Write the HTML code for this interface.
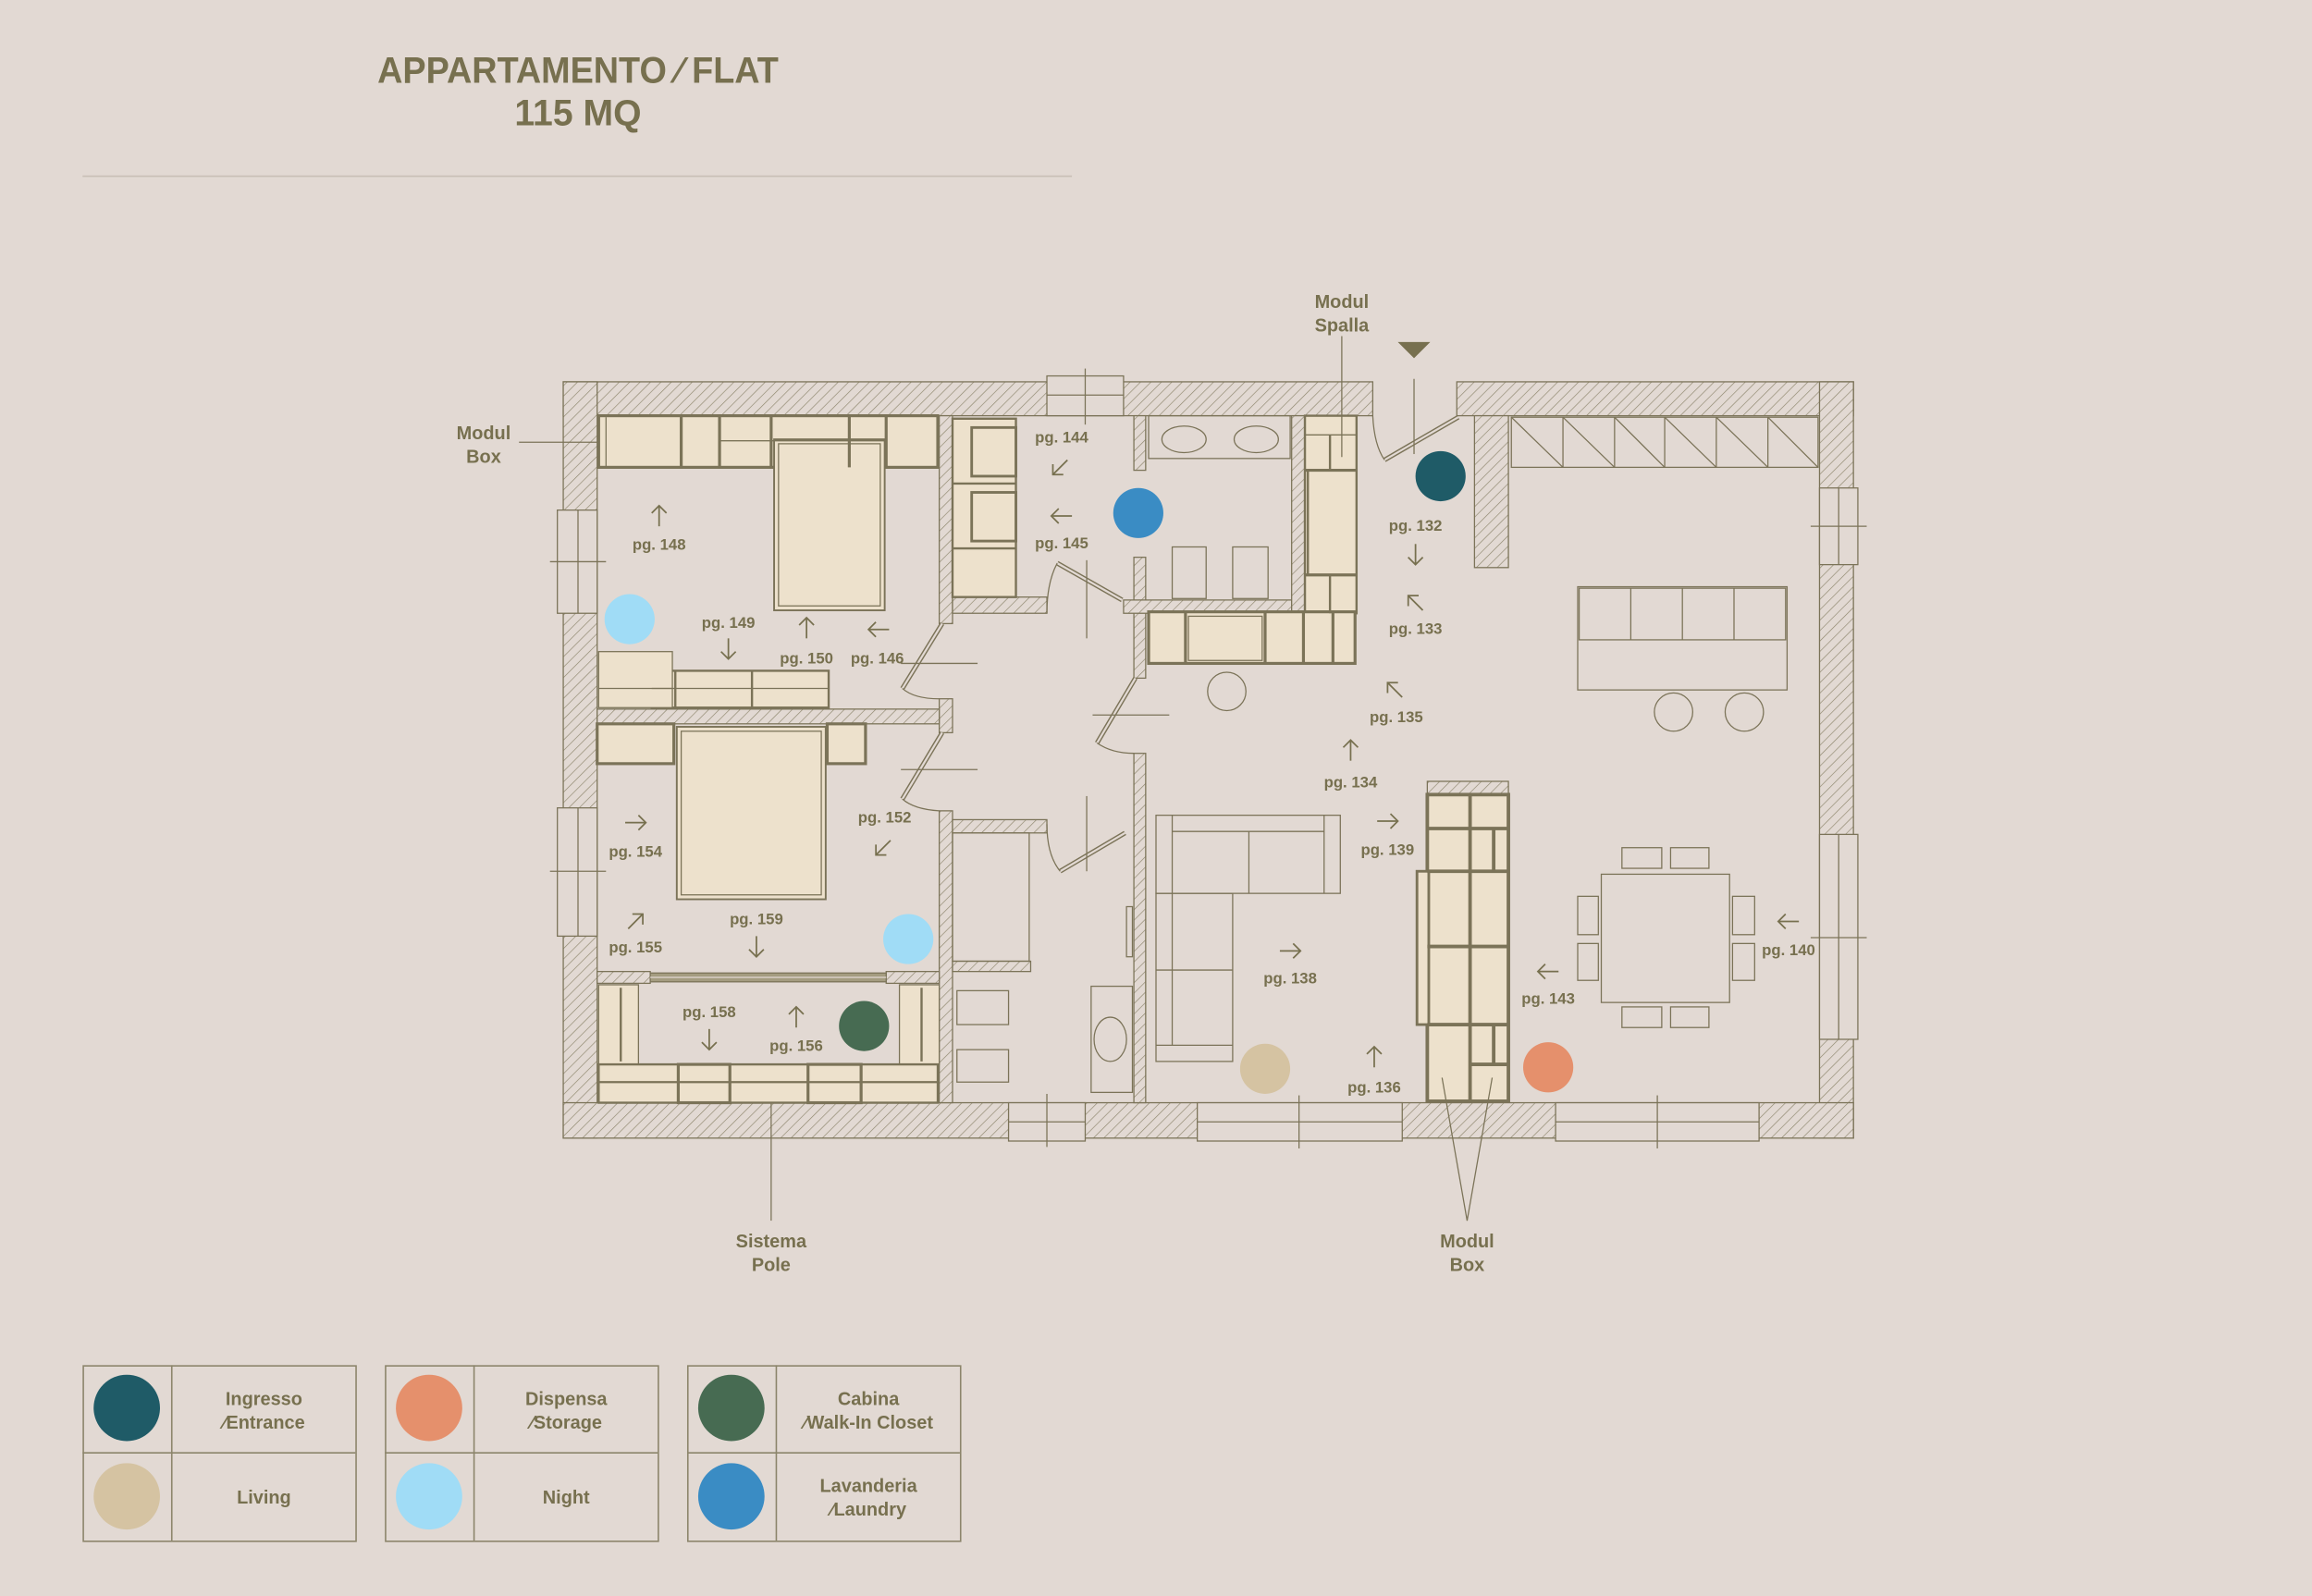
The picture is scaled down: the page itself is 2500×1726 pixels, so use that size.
<!DOCTYPE html>
<html><head><meta charset="utf-8"><style>
html,body{margin:0;padding:0;background:#e2d9d3;}
svg{display:block}
text{font-family:"Liberation Sans",sans-serif;fill:#77704f;font-weight:bold;}
</style></head><body>
<svg width="2500" height="1726" viewBox="0 0 1568 1082.6" preserveAspectRatio="none" xmlns="http://www.w3.org/2000/svg">
<defs>
<pattern id="h" width="5" height="5" patternUnits="userSpaceOnUse" patternTransform="rotate(45)">
<rect width="5" height="5" fill="#e2d9d3"/><line x1="0" y1="0" x2="0" y2="5" stroke="#8c856b" stroke-width="0.8"/>
</pattern>
<g id="ar" fill="none" stroke="#77704f" stroke-width="1.1"><line x1="0" y1="7" x2="0" y2="-7"/><polyline points="-5,-2 0,-7 5,-2"/></g>
</defs>
<rect width="1568" height="1083" fill="#e2d9d3"/>
<!-- title -->
<text x="392" y="56" font-size="25" text-anchor="middle" style="font-family:'Liberation Sans Narrow','Liberation Sans',sans-serif" textLength="272" lengthAdjust="spacingAndGlyphs">APPARTAMENTO ⁄ FLAT</text>
<text x="392" y="85" font-size="25" text-anchor="middle" style="font-family:'Liberation Sans Narrow','Liberation Sans',sans-serif" textLength="86" lengthAdjust="spacingAndGlyphs">115 MQ</text>
<line x1="56" y1="119.5" x2="727" y2="119.5" stroke="#c9bfb6" stroke-width="1"/>

<g stroke="#7b7358" stroke-width="0.8">
<!-- walls -->
<g fill="url(#h)">
<rect x="382" y="259" width="549" height="23"/>
<rect x="988" y="259" width="269" height="23"/>
<rect x="382" y="259" width="23" height="513"/>
<rect x="1234" y="259" width="23" height="513"/>
<rect x="382" y="748" width="875" height="24"/>
<rect x="1000" y="282" width="23" height="103"/>
<rect x="637" y="282" width="9" height="141"/>
<rect x="637" y="474" width="9" height="23"/>
<rect x="637" y="550" width="9" height="198"/>
<rect x="405" y="481" width="232" height="10"/>
<rect x="405" y="659" width="36" height="8"/>
<rect x="601" y="659" width="36" height="8"/>
<rect x="646" y="405" width="64" height="11"/>
<rect x="769" y="282" width="8" height="37"/>
<rect x="769" y="378" width="8" height="82"/>
<rect x="762" y="407" width="114" height="9"/>
<rect x="876" y="282" width="9" height="134"/>
<rect x="769" y="511" width="8" height="237"/>
<rect x="646" y="556" width="64" height="9"/>
<rect x="646" y="652" width="53" height="7"/>
<rect x="968" y="530" width="55" height="9"/>
</g>
<rect x="441" y="660" width="160" height="6" fill="#a49c80"/>
<line x1="441" y1="663" x2="601" y2="663" stroke="#e2d9d3"/>
<!-- windows -->
<g fill="#e2d9d3">
<rect x="378" y="346" width="27" height="70"/><rect x="378" y="548" width="27" height="87"/>
<rect x="710" y="255" width="52" height="27"/>
<rect x="1234" y="331" width="26" height="52"/><rect x="1234" y="566" width="26" height="139"/>
<rect x="684" y="748" width="52" height="26"/><rect x="812" y="748" width="139" height="26"/><rect x="1055" y="748" width="138" height="26"/>
</g>
<g fill="none">
<line x1="392" y1="346" x2="392" y2="416"/><line x1="373" y1="381" x2="411" y2="381"/>
<line x1="392" y1="548" x2="392" y2="635"/><line x1="373" y1="591" x2="411" y2="591"/>
<line x1="710" y1="268" x2="762" y2="268"/><line x1="736" y1="250" x2="736" y2="288"/>
<line x1="1247" y1="331" x2="1247" y2="383"/><line x1="1228" y1="357" x2="1266" y2="357"/>
<line x1="1247" y1="566" x2="1247" y2="705"/><line x1="1228" y1="636" x2="1266" y2="636"/>
<line x1="684" y1="761" x2="736" y2="761"/><line x1="710" y1="742" x2="710" y2="778"/>
<line x1="812" y1="761" x2="951" y2="761"/><line x1="881" y1="743" x2="881" y2="779"/>
<line x1="1055" y1="761" x2="1193" y2="761"/><line x1="1124" y1="743" x2="1124" y2="779"/>
</g>
<!-- doors -->
<g fill="none">
<line x1="639" y1="423" x2="612" y2="467" stroke-width="3.2"/><line x1="639" y1="423" x2="612" y2="467" stroke="#e2d9d3" stroke-width="1.4"/>
<path d="M612 467 Q620 474 637 474"/>
<line x1="639" y1="497" x2="612" y2="542" stroke-width="3.2"/><line x1="639" y1="497" x2="612" y2="542" stroke="#e2d9d3" stroke-width="1.4"/>
<path d="M612 542 Q620 549 637 550"/>
<line x1="770" y1="460" x2="744" y2="504" stroke-width="3.2"/><line x1="770" y1="460" x2="744" y2="504" stroke="#e2d9d3" stroke-width="1.4"/>
<path d="M744 504 Q754 511 769 511"/>
<line x1="717" y1="382" x2="761" y2="407" stroke-width="3.2"/><line x1="717" y1="382" x2="761" y2="407" stroke="#e2d9d3" stroke-width="1.4"/>
<path d="M710 416 Q710 395 717 382"/>
<line x1="763" y1="565" x2="719" y2="591" stroke-width="3.2"/><line x1="763" y1="565" x2="719" y2="591" stroke="#e2d9d3" stroke-width="1.4"/>
<path d="M710 559 Q710 580 719 591"/>
<line x1="989" y1="283" x2="939" y2="312" stroke-width="3.2"/><line x1="989" y1="283" x2="939" y2="312" stroke="#e2d9d3" stroke-width="1.4"/>
<path d="M931 282 Q932 302 939 312"/>
<line x1="737" y1="380" x2="737" y2="433"/><line x1="737" y1="540" x2="737" y2="591"/>
<line x1="611" y1="450" x2="663" y2="450"/><line x1="611" y1="522" x2="663" y2="522"/>
<line x1="741" y1="485" x2="793" y2="485"/>
<line x1="959" y1="257" x2="959" y2="308"/>
</g>
<polygon points="948,232 970,232 959,243" fill="#77704f" stroke="none"/>

<!-- bedroom 1 furniture -->
<g fill="#ede1cc">
<rect x="406" y="282" width="230" height="35" stroke-width="2"/>
<rect x="442" y="455" width="120" height="25" stroke-width="1.5"/>
<rect x="406" y="442" width="50" height="38"/>
<rect x="525" y="298" width="75" height="116" stroke-width="1.2"/>
<rect x="405" y="491" width="52" height="27" stroke-width="2"/>
<rect x="561" y="491" width="26" height="27" stroke-width="2"/>
<rect x="459" y="493" width="101" height="117" stroke-width="1.2"/>
<rect x="406" y="668" width="27" height="54"/><rect x="610" y="668" width="27" height="54"/>
<rect x="406" y="722" width="230" height="26" stroke-width="1.5"/>
<rect x="646" y="284" width="43" height="121" stroke-width="1.5"/>
<rect x="885" y="282" width="35" height="134" stroke-width="1.5"/>
<rect x="779" y="415" width="140" height="35" stroke-width="2"/>
<rect x="968" y="539" width="55" height="208" stroke-width="2.4"/>
<rect x="961" y="591" width="8" height="104" stroke-width="1.8"/>
</g>
<g fill="none">
<line x1="411" y1="283" x2="411" y2="317"/>
<line x1="462" y1="282" x2="462" y2="317" stroke-width="2"/><line x1="488" y1="282" x2="488" y2="317" stroke-width="2"/>
<line x1="523" y1="282" x2="523" y2="317" stroke-width="2"/><line x1="576" y1="282" x2="576" y2="317" stroke-width="2"/><line x1="601" y1="282" x2="601" y2="317" stroke-width="2"/>
<line x1="488" y1="299" x2="601" y2="299"/>
<rect x="528" y="301" width="69" height="110"/>
<line x1="510" y1="455" x2="510" y2="480" stroke-width="1.5"/><line x1="458" y1="455" x2="458" y2="480" stroke-width="1.5"/>
<line x1="442" y1="467" x2="562" y2="467"/><line x1="406" y1="467" x2="456" y2="467"/>
<rect x="462" y="496" width="95" height="111"/>
<line x1="421" y1="670" x2="421" y2="720" stroke-width="1.5"/><line x1="625" y1="670" x2="625" y2="720" stroke-width="1.5"/>
<rect x="460" y="722" width="35" height="26" stroke-width="2"/><rect x="548" y="722" width="36" height="26" stroke-width="2"/>
<line x1="406" y1="734" x2="636" y2="734" stroke-width="1.4"/>
<line x1="646" y1="328" x2="689" y2="328" stroke-width="1.5"/><line x1="646" y1="372" x2="689" y2="372" stroke-width="1.5"/>
<rect x="659" y="290" width="30" height="33" stroke-width="1.8"/><rect x="659" y="334" width="30" height="33" stroke-width="1.8"/>
<!-- bathroom -->
<rect x="646" y="565" width="52" height="87"/>
<rect x="649" y="672" width="35" height="23"/><rect x="649" y="712" width="35" height="22"/>
<rect x="740" y="669" width="28" height="72"/><ellipse cx="753" cy="705" rx="11" ry="15"/>
<rect x="764" y="615" width="4" height="34"/>
<!-- laundry -->
<rect x="779" y="282" width="96" height="29"/>
<ellipse cx="803" cy="298" rx="15" ry="9"/><ellipse cx="852" cy="298" rx="15" ry="9"/>
<rect x="795" y="371" width="23" height="35"/><rect x="836" y="371" width="24" height="35"/>
<line x1="885" y1="295" x2="920" y2="295"/>
<line x1="885" y1="319" x2="920" y2="319" stroke-width="2"/><line x1="902" y1="295" x2="902" y2="319" stroke-width="1.5"/>
<line x1="885" y1="390" x2="920" y2="390" stroke-width="2"/><line x1="902" y1="390" x2="902" y2="416" stroke-width="1.5"/>
<line x1="887" y1="319" x2="887" y2="390" stroke-width="1.5"/>
<line x1="804" y1="415" x2="804" y2="450" stroke-width="2"/><line x1="858" y1="415" x2="858" y2="450" stroke-width="2"/>
<line x1="884" y1="415" x2="884" y2="450" stroke-width="2"/><line x1="904" y1="415" x2="904" y2="450" stroke-width="2"/>
<rect x="806" y="418" width="50" height="30"/>
<circle cx="832" cy="469" r="13"/>
<!-- right wardrobe -->
<rect x="1025" y="283" width="208" height="34"/>
<path d="M1060 283V317M1095 283V317M1129 283V317M1164 283V317M1199 283V317"/>
<path d="M1025 283L1060 317M1060 283L1095 317M1095 283L1129 317M1129 283L1164 317M1164 283L1199 317M1199 283L1233 317"/>
<!-- sofa -->
<rect x="1070" y="398" width="142" height="70"/><rect x="1071" y="399" width="140" height="35"/>
<path d="M1106 399V434M1141 399V434M1176 399V434"/>
<circle cx="1135" cy="483" r="13"/><circle cx="1183" cy="483" r="13"/>
<!-- shelving -->
<g stroke-width="2.4"><line x1="997" y1="539" x2="997" y2="747"/>
<path d="M968 562H1023M968 591H1023M968 642H1023M968 695H1023M997 722H1023"/>
<line x1="1013" y1="562" x2="1013" y2="591"/><line x1="1013" y1="695" x2="1013" y2="722"/></g>
<!-- sectional -->
<rect x="784" y="553" width="125" height="53"/><rect x="784" y="606" width="52" height="114"/>
<path d="M795 564H898M795 553V709M898 553V606M847 564V606M784 658H836M784 709H836"/>
<!-- dining -->
<rect x="1086" y="593" width="87" height="87"/>
<rect x="1100" y="575" width="27" height="14"/><rect x="1133" y="575" width="26" height="14"/>
<rect x="1100" y="683" width="27" height="14"/><rect x="1133" y="683" width="26" height="14"/>
<rect x="1070" y="608" width="14" height="26"/><rect x="1070" y="640" width="14" height="25"/>
<rect x="1175" y="608" width="15" height="26"/><rect x="1175" y="640" width="15" height="25"/>
<!-- leaders -->
<line x1="352" y1="300" x2="406" y2="300"/>
<line x1="910" y1="228" x2="910" y2="310"/>
<line x1="523" y1="748" x2="523" y2="828"/>
<path d="M978 731L995 828L1012 731"/>
</g>
</g>

<!-- dots -->
<circle cx="977" cy="323" r="17" fill="#1f5b67"/>
<circle cx="772" cy="348" r="17" fill="#3a8cc4"/>
<circle cx="427" cy="420" r="17" fill="#a0dcf6"/>
<circle cx="616" cy="637" r="17" fill="#a0dcf6"/>
<circle cx="586" cy="696" r="17" fill="#476b52"/>
<circle cx="858" cy="725" r="17" fill="#d5c3a2"/>
<circle cx="1050" cy="724" r="17" fill="#e5906c"/>

<!-- arrows -->
<use href="#ar" transform="translate(447,350)"/>
<use href="#ar" transform="translate(494,440) rotate(180)"/>
<use href="#ar" transform="translate(547,426)"/>
<use href="#ar" transform="translate(596,427) rotate(-90)"/>
<use href="#ar" transform="translate(719,317) rotate(-135)"/>
<use href="#ar" transform="translate(720,350) rotate(-90)"/>
<use href="#ar" transform="translate(431,558) rotate(90)"/>
<use href="#ar" transform="translate(599,575) rotate(-135)"/>
<use href="#ar" transform="translate(431,625) rotate(45)"/>
<use href="#ar" transform="translate(513,642) rotate(180)"/>
<use href="#ar" transform="translate(481,705) rotate(180)"/>
<use href="#ar" transform="translate(540,690)"/>
<use href="#ar" transform="translate(960,376) rotate(180)"/>
<use href="#ar" transform="translate(960,409) rotate(-45)"/>
<use href="#ar" transform="translate(946,468) rotate(-45)"/>
<use href="#ar" transform="translate(916,509)"/>
<use href="#ar" transform="translate(941,557) rotate(90)"/>
<use href="#ar" transform="translate(875,645) rotate(90)"/>
<use href="#ar" transform="translate(932,717)"/>
<use href="#ar" transform="translate(1050,659) rotate(-90)"/>
<use href="#ar" transform="translate(1213,625) rotate(-90)"/>

<g font-size="10.5" text-anchor="middle">
<text x="447" y="373">pg. 148</text><text x="494" y="426">pg. 149</text><text x="547" y="450">pg. 150</text>
<text x="595" y="450">pg. 146</text><text x="720" y="300">pg. 144</text><text x="720" y="372">pg. 145</text>
<text x="431" y="581">pg. 154</text><text x="600" y="558">pg. 152</text><text x="431" y="646">pg. 155</text>
<text x="513" y="627">pg. 159</text><text x="481" y="690">pg. 158</text><text x="540" y="713">pg. 156</text>
<text x="960" y="360">pg. 132</text><text x="960" y="430">pg. 133</text><text x="947" y="490">pg. 135</text>
<text x="916" y="534">pg. 134</text><text x="941" y="580">pg. 139</text><text x="875" y="667">pg. 138</text>
<text x="932" y="741">pg. 136</text><text x="1050" y="681">pg. 143</text><text x="1213" y="648">pg. 140</text>
</g>
<g font-size="12.5" text-anchor="middle">
<text x="328" y="298">Modul</text><text x="328" y="314">Box</text>
<text x="910" y="209">Modul</text><text x="910" y="225">Spalla</text>
<text x="523" y="846">Sistema</text><text x="523" y="862">Pole</text>
<text x="995" y="846">Modul</text><text x="995" y="862">Box</text>
</g>

<!-- legend -->
<g fill="none" stroke="#8c856b" stroke-width="1">
<rect x="56.5" y="926.5" width="185" height="119"/><line x1="56" y1="985.5" x2="241" y2="985.5"/><line x1="116.5" y1="926" x2="116.5" y2="1045"/>
<rect x="261.5" y="926.5" width="185" height="119"/><line x1="261" y1="985.5" x2="446" y2="985.5"/><line x1="321.5" y1="926" x2="321.5" y2="1045"/>
<rect x="466.5" y="926.5" width="185" height="119"/><line x1="466" y1="985.5" x2="651" y2="985.5"/><line x1="526.5" y1="926" x2="526.5" y2="1045"/>
</g>
<circle cx="86" cy="955" r="22.5" fill="#1f5b67"/><circle cx="86" cy="1015" r="22.5" fill="#d5c3a2"/>
<circle cx="291" cy="955" r="22.5" fill="#e5906c"/><circle cx="291" cy="1015" r="22.5" fill="#a0dcf6"/>
<circle cx="496" cy="955" r="22.5" fill="#476b52"/><circle cx="496" cy="1015" r="22.5" fill="#3a8cc4"/>
<g font-size="12.5" text-anchor="middle">
<text x="179" y="953">Ingresso</text><text x="179" y="969">⁄Entrance</text><text x="179" y="1020">Living</text>
<text x="384" y="953">Dispensa</text><text x="384" y="969">⁄Storage</text><text x="384" y="1020">Night</text>
<text x="589" y="953">Cabina</text><text x="589" y="969">⁄Walk-In Closet</text>
<text x="589" y="1012">Lavanderia</text><text x="589" y="1028">⁄Laundry</text>
</g>
</svg>
</body></html>
